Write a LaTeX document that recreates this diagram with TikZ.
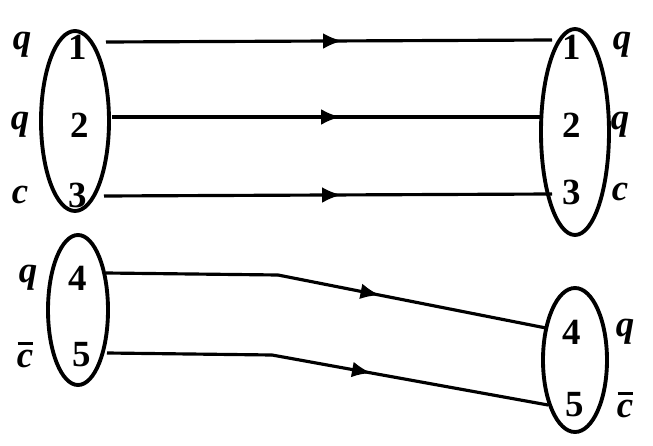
\documentclass[tikz,border=0pt]{standalone}
\usepackage{amsmath}
\usepackage{fontspec}
\setmainfont{Liberation Serif}
\usetikzlibrary{shapes.geometric}
\usetikzlibrary{decorations.markings}
\usetikzlibrary{arrows.meta}
\tikzset{>=latex}
\newcommand{\cbarlabel}{\rlap{\kern0.02em\raisebox{0.62em}{\rule{0.42em}{1.4pt}}}c}
\tikzset{
  blob/.style={draw, ellipse, line width=2.2pt, inner sep=0pt},
  num/.style={font=\fontsize{21}{23}\selectfont\bfseries},
  flav/.style={font=\fontsize{21}{23}\selectfont\bfseries\itshape},
  track/.style={line width=1.8pt, postaction={decorate},
    decoration={markings, mark=at position #1 with {\arrow{Latex[length=11pt,width=9pt]}}}},
}
\begin{document}
\begin{tikzpicture}[x=0.02cm, y=-0.02cm]
        \useasboundingbox (0,0) rectangle (653,446);

        \node [blob, minimum height=180*0.02cm, minimum width=68*0.02cm] (L1) at (75,121) {};
        \node [blob, minimum height=150*0.02cm, minimum width=60*0.02cm] (L2) at (78,310) {};
        \node [blob, minimum height=206*0.02cm, minimum width=68*0.02cm] (R1) at (575,132) {};
        \node [blob, minimum height=144*0.02cm, minimum width=64*0.02cm] (R2) at (575,360) {};

        \node [num] (a1) at (78,47) {1};
        \node [num] (a2) at (80,125) {2};
        \node [num] (a3) at (78,195) {3};
        \node [num] (a4) at (78,278) {4};
        \node [num] (a5) at (82,355) {5};
        \node [num] (b1) at (572,47) {1};
        \node [num] (b2) at (572,125) {2};
        \node [num] (b3) at (572,192) {3};
        \node [num] (b4) at (572,332) {4};
        \node [num] (b5) at (575,405) {5};

        \node [flav] (fa1) at (22,45) {q};
        \node [flav] (fa2) at (20,125) {q};
        \node [flav] (fa3) at (20,195) {c};
        \node [flav] (fa4) at (28,278) {q};
        \node [flav] (fa5) at (25,355) {\cbarlabel};
        \node [flav] (fb1) at (622,45) {q};
        \node [flav] (fb2) at (620,125) {q};
        \node [flav] (fb3) at (620,192) {c};
        \node [flav] (fb4) at (625,332) {q};
        \node [flav] (fb5) at (625,405) {\cbarlabel};

        % track ends
        \coordinate (s1) at (106,42);  \coordinate (e1) at (552,40);
        \coordinate (s2) at (112,117); \coordinate (e2) at (543,117);
        \coordinate (s3) at (104,196); \coordinate (e3) at (552,194);
        \coordinate (s4) at (106,273); \coordinate (k4) at (278,275); \coordinate (e4) at (546,328);
        \coordinate (s5) at (107,353); \coordinate (k5) at (272,355); \coordinate (e5) at (548,405);

        \draw [track=0.53] (s1)--(e1);
        \draw [track=0.53] (s2)--(e2);
        \draw [track=0.53] (s3)--(e3);
        \draw [line width=1.8pt] (s4)--(k4);
        \draw [track=0.38] (k4)--(e4);
        \draw [line width=1.8pt] (s5)--(k5);
        \draw [track=0.36] (k5)--(e5);
    \end{tikzpicture}
\end{document}
